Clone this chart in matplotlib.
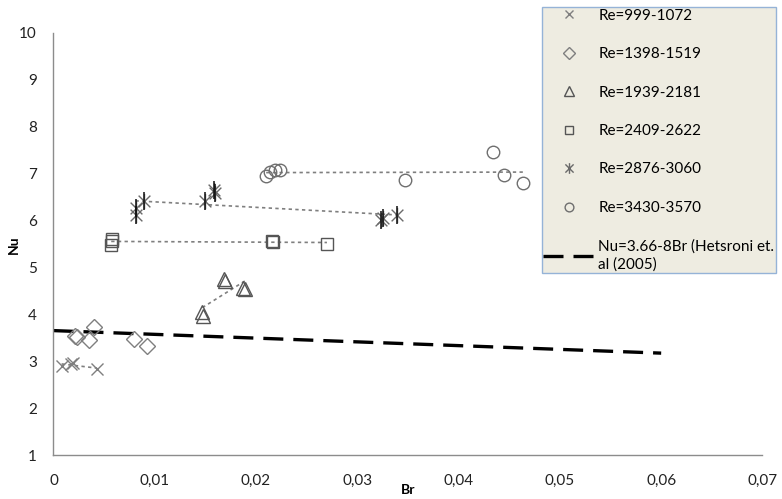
#!/usr/bin/env python3
"""Nu versus Br for several Reynolds number ranges, with the Hetsroni et al. correlation."""
import numpy as np
import matplotlib
matplotlib.use('Agg')
import matplotlib.pyplot as plt
from matplotlib.path import Path

plt.rcParams['font.family'] = ['Lato', 'DejaVu Sans']

# Br / Nu values, one pair of lists per Re range
br_999 = [0.0008, 0.0017, 0.0019, 0.0043]
nu_999 = [2.90, 2.95, 2.97, 2.84]

br_1398 = [0.0021, 0.0023, 0.0035, 0.0040, 0.0079, 0.0092]
nu_1398 = [3.55, 3.52, 3.46, 3.73, 3.48, 3.33]

br_1939 = [0.0147, 0.0148, 0.0168, 0.0169, 0.0187, 0.0189]
nu_1939 = [4.06, 3.97, 4.75, 4.71, 4.57, 4.54]

br_2409 = [0.0057, 0.0058, 0.0058, 0.0216, 0.0217, 0.0270]
nu_2409 = [5.49, 5.56, 5.62, 5.57, 5.55, 5.51]

br_2876 = [0.0081, 0.0081, 0.0089, 0.0150, 0.0158, 0.0159, 0.0323, 0.0325, 0.0339]
nu_2876 = [6.13, 6.27, 6.42, 6.41, 6.66, 6.59, 6.01, 6.06, 6.13]

br_3430 = [0.0210, 0.0214, 0.0219, 0.0224, 0.0347, 0.0434, 0.0445, 0.0464]
nu_3430 = [6.95, 7.03, 7.09, 7.07, 6.86, 7.46, 6.98, 6.80]

# Hetsroni et al. (2005) correlation range
br_corr = [0.0, 0.06]

x_ticks = [0, 0.01, 0.02, 0.03, 0.04, 0.05, 0.06, 0.07]
x_tick_labels = ['0', '0,01', '0,02', '0,03', '0,04', '0,05', '0,06', '0,07']
y_ticks = [1, 2, 3, 4, 5, 6, 7, 8, 9, 10]

# Excel style star: an x with a vertical bar through it
star = Path([(-1, -1), (1, 1), (-1, 1), (1, -1), (0, -1.3), (0, 1.3)],
            [Path.MOVETO, Path.LINETO, Path.MOVETO, Path.LINETO, Path.MOVETO, Path.LINETO])

series = [
    (br_999, nu_999, 'x', 9, '#7f7f7f', 'Re=999-1072', True),
    (br_1398, nu_1398, 'D', 8.5, '#7f7f7f', 'Re=1398-1519', False),
    (br_1939, nu_1939, '^', 10, '#555555', 'Re=1939-2181', True),
    (br_2409, nu_2409, 's', 9, '#555555', 'Re=2409-2622', True),
    (br_2876, nu_2876, star, 11, '#6a6a6a', 'Re=2876-3060', True),
    (br_3430, nu_3430, 'o', 9, '#6f6f6f', 'Re=3430-3570', True),
]

fig = plt.figure(figsize=(7.82, 4.99), dpi=100)
ax = fig.add_axes([0.0684, 0.0872, 0.9066, 0.8468])

for br, nu, marker, size, color, label, trend in series:
    ax.plot(br, nu, linestyle='none', marker=marker, markersize=size,
            markerfacecolor='none', markeredgecolor=color, markeredgewidth=1.0,
            label=label, zorder=3)
    if trend:
        # linear trendline over the range of the series
        k, b = np.polyfit(br, nu, 1)
        xs = np.array([min(br), max(br)])
        ax.plot(xs, k * xs + b, color='#7f7f7f', linestyle=(0, (2, 2)),
                linewidth=1.2, zorder=2)

# darker vertical bar of the star markers
ax.plot(br_2876, nu_2876, linestyle='none', marker='|', markersize=13,
        markeredgecolor='#111111', markeredgewidth=1.1, zorder=4)

xc = np.array(br_corr)
ax.plot(xc, 3.66 - 8 * xc, color='black', linewidth=2.4, dashes=(6, 3),
        label='Nu=3.66-8Br (Hetsroni et.\nal (2005)', zorder=2)

ax.set_xlim(0, 0.07)
ax.set_ylim(1, 10)
ax.set_xticks(x_ticks)
ax.set_xticklabels(x_tick_labels)
ax.set_yticks(y_ticks)
ax.tick_params(length=0, labelsize=11, colors='#222222')
ax.tick_params(axis='x', pad=13.5)
ax.tick_params(axis='y', pad=12)

for side in ['top', 'right']:
    ax.spines[side].set_visible(False)
for side in ['left', 'bottom']:
    ax.spines[side].set_color('#8c8c8c')
    ax.spines[side].set_linewidth(1.0)

ax.set_xlabel('Br', fontsize=10, fontweight='bold', labelpad=-3)
ax.set_ylabel('Nu', fontsize=10, fontweight='bold', labelpad=-0.5)

leg = fig.legend(loc='lower left', bbox_to_anchor=(0.693, 0.453),
                 fontsize=11, frameon=True, fancybox=False, markerscale=0.7,
                 handlelength=3.3, labelspacing=1.6, borderpad=0.1,
                 handletextpad=0.3, borderaxespad=0)
leg.get_texts()[-1].set_linespacing(1.3)
leg.get_frame().set_facecolor('#EEECE1')
leg.get_frame().set_edgecolor('#95B3D7')
leg.get_frame().set_linewidth(1.0)
leg.get_frame().set_alpha(1)

fig.savefig('out.png', dpi=100)
